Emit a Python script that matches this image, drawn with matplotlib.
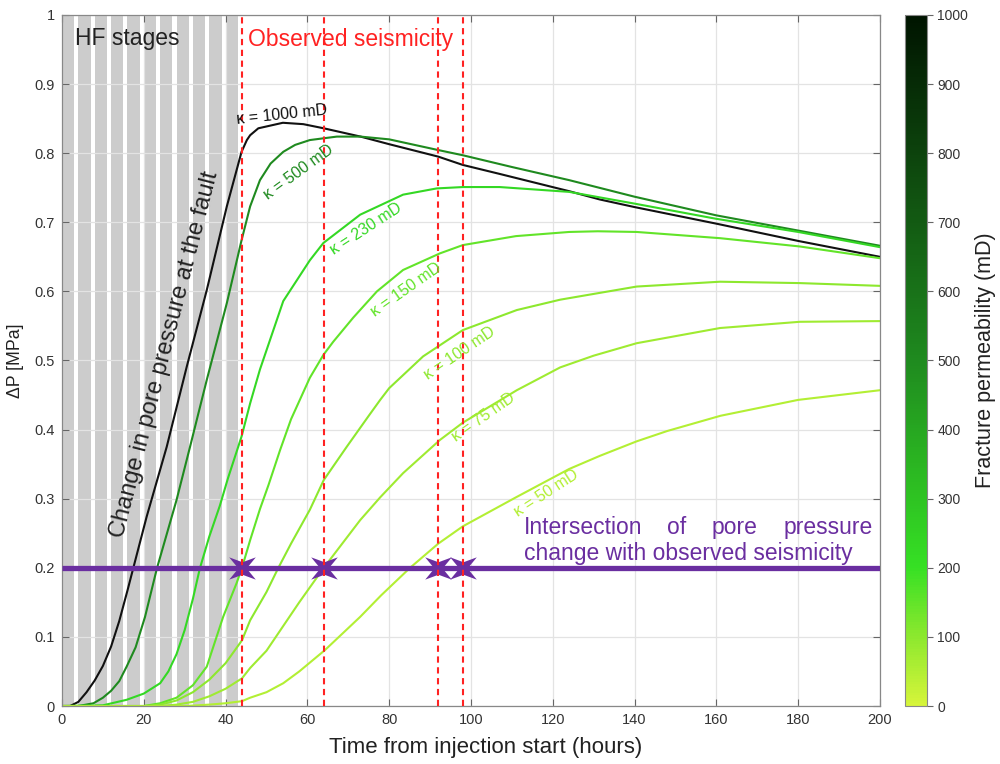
import numpy as np
import matplotlib
matplotlib.use("Agg")
import matplotlib.pyplot as plt
from matplotlib.colors import LinearSegmentedColormap, Normalize
from matplotlib.cm import ScalarMappable
from matplotlib.path import Path

plt.rcParams['font.family'] = ['Liberation Sans', 'DejaVu Sans']

# ---------------- data ----------------
stage_starts = [0, 4, 8, 12, 16, 20, 24, 28, 32, 36, 40]
stage_length = 3
seismicity_times = [44, 64, 92, 98]
threshold = 0.2
threshold_span = [0, 200]

perms = [1000, 500, 230, 150, 100, 75, 50]

t_1000 = [0, 2, 4, 6, 8, 10, 12, 14, 16, 17.4, 20.7, 25.6, 30.5, 35.4, 40.3, 43.9, 45.2, 46, 48, 54, 59, 64, 73, 80, 92, 98, 107, 124, 131.5, 140, 160, 180, 200]
p_1000 = [0, 0.0, 0.006, 0.02, 0.037, 0.058, 0.086, 0.123, 0.167, 0.199, 0.274, 0.375, 0.491, 0.602, 0.723, 0.802, 0.819, 0.826, 0.836, 0.844, 0.842, 0.836, 0.824, 0.813, 0.795, 0.783, 0.770, 0.745, 0.733, 0.722, 0.698, 0.673, 0.650]

t_500 = [0, 4, 7.7, 10, 12, 14, 15.8, 18, 20.3, 23.2, 28, 31.3, 35.4, 40.3, 43.9, 46, 48.4, 51, 54.1, 57, 60.6, 67.2, 73, 80, 91.6, 98, 110, 124, 140, 160, 180, 200]
p_500 = [0, 0.0, 0.004, 0.012, 0.022, 0.036, 0.057, 0.085, 0.129, 0.199, 0.298, 0.375, 0.472, 0.583, 0.674, 0.723, 0.761, 0.785, 0.802, 0.812, 0.819, 0.824, 0.824, 0.820, 0.805, 0.797, 0.780, 0.761, 0.737, 0.710, 0.688, 0.666]

t_230 = [0, 10, 15.8, 20, 24, 26, 28, 30, 32, 33.7, 36, 38.6, 40.6, 43.9, 46, 48.4, 54.1, 60.6, 63.9, 72.9, 83.4, 91.6, 98, 107, 124, 140, 160, 180, 200]
p_230 = [0, 0.001, 0.009, 0.018, 0.033, 0.05, 0.075, 0.11, 0.155, 0.199, 0.245, 0.29, 0.33, 0.39, 0.438, 0.487, 0.586, 0.645, 0.670, 0.711, 0.740, 0.749, 0.751, 0.751, 0.744, 0.727, 0.705, 0.686, 0.664]

t_150 = [0, 20, 24, 28, 32, 35.4, 39.4, 42.7, 44, 46, 48.4, 50.5, 53.3, 56, 60.6, 63.9, 66.3, 71.2, 77, 83.4, 92.4, 98, 111, 124, 131, 140.5, 160.9, 180.4, 200]
p_150 = [0, 0.0, 0.004, 0.012, 0.03, 0.057, 0.129, 0.178, 0.2, 0.24, 0.285, 0.32, 0.37, 0.415, 0.475, 0.508, 0.527, 0.562, 0.600, 0.631, 0.655, 0.667, 0.680, 0.686, 0.687, 0.686, 0.677, 0.665, 0.648]

t_100 = [0, 20, 24, 28, 32, 36, 40, 44, 46, 50, 52.9, 56, 60.6, 64, 69.6, 75, 77.8, 80, 88.3, 98, 111.2, 121.8, 140.5, 160.9, 180.4, 200]
p_100 = [0, 0.0, 0.002, 0.008, 0.02, 0.038, 0.062, 0.095, 0.124, 0.165, 0.2, 0.235, 0.284, 0.327, 0.375, 0.42, 0.443, 0.46, 0.506, 0.544, 0.573, 0.588, 0.607, 0.614, 0.612, 0.608]

t_75 = [0, 24, 28, 32, 36, 40, 44, 46, 50, 54, 58, 64, 72.9, 77.8, 83.4, 92.4, 98, 111.2, 121.8, 130, 140.5, 160.9, 180.4, 200]
p_75 = [0, 0.0, 0.002, 0.006, 0.014, 0.025, 0.04, 0.055, 0.08, 0.115, 0.15, 0.2, 0.269, 0.302, 0.337, 0.385, 0.41, 0.457, 0.49, 0.507, 0.525, 0.547, 0.556, 0.557]

t_50 = [0, 30, 36, 40, 44, 46, 50, 54.1, 58, 64.3, 72.9, 78, 85.1, 92, 98, 111, 124, 131.5, 140.5, 148, 161, 180, 200]
p_50 = [0, 0.0, 0.002, 0.004, 0.007, 0.012, 0.02, 0.033, 0.05, 0.081, 0.129, 0.16, 0.2, 0.235, 0.26, 0.302, 0.343, 0.362, 0.383, 0.398, 0.42, 0.443, 0.457]

curves = {1000: (t_1000, p_1000), 500: (t_500, p_500), 230: (t_230, p_230),
          150: (t_150, p_150), 100: (t_100, p_100), 75: (t_75, p_75), 50: (t_50, p_50)}

x_ticks = [0, 20, 40, 60, 80, 100, 120, 140, 160, 180, 200]
y_ticks = [0, 0.1, 0.2, 0.3, 0.4, 0.5, 0.6, 0.7, 0.8, 0.9, 1]
y_tick_labels = ['0', '0.1', '0.2', '0.3', '0.4', '0.5', '0.6', '0.7', '0.8', '0.9', '1']
cb_ticks = [0, 100, 200, 300, 400, 500, 600, 700, 800, 900, 1000]

# label placement (x, y, rotation) for curve labels
label_pos = {1000: (53.7, 0.856, 6), 500: (57.8, 0.773, 36), 230: (74.4, 0.690, 33),
             150: (84.1, 0.602, 35), 100: (97.3, 0.511, 34), 75: (103.0, 0.418, 35),
             50: (118.5, 0.308, 33)}

# ---------------- styling ----------------
cmap = LinearSegmentedColormap.from_list(
    'perm', [(0.0, '#d6f53a'), (0.1, '#8ce82e'), (0.2, '#36e024'),
             (0.5, '#1f8a1f'), (1.0, '#001400')])
norm = Normalize(0, 1000)
purple = '#6a2ea0'
red = '#ff2222'

fig = plt.figure(figsize=(10, 7.64), dpi=100)
ax = fig.add_axes([0.062, 0.0759, 0.818, 0.9045])
cax = fig.add_axes([0.905, 0.0759, 0.022, 0.9045])

for s in stage_starts:
    ax.axvspan(s, s + stage_length, color='#cccccc', lw=0, zorder=1)

for k in perms:
    t, p = curves[k]
    c = cmap(norm(k)) if k < 1000 else '#111111'
    ax.plot(t, p, color=c, lw=1.5, zorder=2.5)
    lx, ly, rot = label_pos[k]
    ax.text(lx, ly, f'\u03ba = {k} mD', color=c, fontsize=11.5, rotation=rot,
            ha='center', va='center', rotation_mode='anchor', zorder=6)

ax.plot(threshold_span, [threshold, threshold], color=purple, lw=3.8, zorder=3,
        solid_capstyle='butt')

# concave star marker (four diagonal arms + horizontal arms)
arm_angles = np.deg2rad([0, 40, 140, 180, 220, 320])
verts = []
for i, a in enumerate(arm_angles):
    verts.append((np.cos(a), np.sin(a)))
    b = arm_angles[(i + 1) % len(arm_angles)]
    if b <= a:
        b += 2 * np.pi
    m = 0.5 * (a + b)
    verts.append((0.36 * np.cos(m), 0.36 * np.sin(m)))
verts.append(verts[0])
codes = [Path.MOVETO] + [Path.LINETO] * (len(verts) - 2) + [Path.CLOSEPOLY]
star = Path(verts, codes)
ax.plot(seismicity_times, [threshold] * len(seismicity_times), ls='none',
        marker=star, markersize=25, color=purple, markeredgewidth=0, zorder=4)

for xt in seismicity_times:
    ax.axvline(xt, color=red, lw=1.5, ls=(0, (3, 2.2)), zorder=5)

ax.set_xlim(0, 200)
ax.set_ylim(0, 1)
ax.set_xticks(x_ticks)
ax.set_yticks(y_ticks)
ax.set_yticklabels(y_tick_labels)
ax.grid(True, color='#e3e3e3', lw=0.9)
ax.tick_params(direction='in', top=True, right=True, length=5, width=0.8,
               color='#666666', labelcolor='#333333', labelsize=10.5, pad=5)
for sp in ax.spines.values():
    sp.set_color('#888888')
    sp.set_linewidth(0.9)

ax.set_xlabel('Time from injection start (hours)', fontsize=16, color='#222222')
ax.xaxis.set_label_coords(0.518, -0.045)
ax.set_ylabel('\u0394P [MPa]', fontsize=12.8, color='#222222', labelpad=8)

ax.text(3.2, 0.966, 'HF stages', fontsize=16.5, color='#222222', ha='left', va='center', zorder=6)
ax.text(45.5, 0.964, 'Observed seismicity', fontsize=16.5, color=red, ha='left', va='center', zorder=6)
ax.text(25.2, 0.508, 'Change in pore pressure at the fault', fontsize=17, color='#222222',
        rotation=75.5, ha='center', va='center', rotation_mode='anchor', zorder=6)

# justified two-line annotation
fs_int = 16.5
ax.text(113.0, 0.259, 'Intersection', fontsize=fs_int, color=purple, ha='left', va='center', zorder=6)
ax.text(147.9, 0.259, 'of', fontsize=fs_int, color=purple, ha='left', va='center', zorder=6)
ax.text(158.9, 0.259, 'pore', fontsize=fs_int, color=purple, ha='left', va='center', zorder=6)
ax.text(198.3, 0.259, 'pressure', fontsize=fs_int, color=purple, ha='right', va='center', zorder=6)
ax.text(113.0, 0.221, 'change with observed seismicity', fontsize=fs_int, color=purple,
        ha='left', va='center', zorder=6)

sm = ScalarMappable(norm=norm, cmap=cmap)
cb = fig.colorbar(sm, cax=cax)
cb.set_ticks(cb_ticks)
cb.outline.set_edgecolor('#888888')
cb.outline.set_linewidth(0.8)
cax.tick_params(labelsize=10, labelcolor='#333333', color='#666666', length=4, width=0.8)
cb.set_label('Fracture permeability (mD)', fontsize=15.5, color='#222222', labelpad=5)

fig.savefig('out.png', dpi=100)
